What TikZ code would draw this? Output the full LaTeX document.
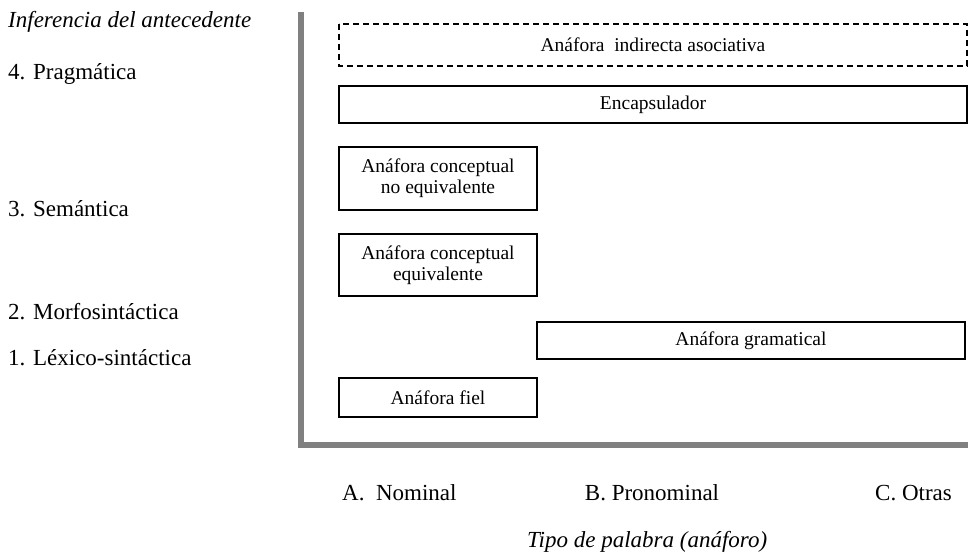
\documentclass[tikz,border=0pt]{standalone}
\usepackage{fontspec}
\setmainfont{Liberation Serif}
\begin{document}
\begin{tikzpicture}[x=1pt,y=-1pt,
  lbl/.style={anchor=base west,inner sep=0pt,font=\fontsize{23}{27}\selectfont},
  xlbl/.style={anchor=base,inner sep=0pt,font=\fontsize{23}{27}\selectfont},
  boxtxt/.style={inner sep=0pt,align=center,font=\fontsize{19.5}{21}\selectfont},
  cat/.style={draw=black,line width=1.7pt},
  catdash/.style={draw=black,line width=1.7pt,dash pattern=on 6pt off 4pt},
  axisline/.style={draw=black!50,line width=6pt}]
\path[fill=white] (0,0) rectangle (968,556);
\useasboundingbox (0,0) rectangle (968,556);
% axes
\coordinate (ytop) at (301,12);
\coordinate (corner) at (301,445);
\coordinate (xend) at (970,445);
\draw[axisline] (ytop) -- (corner) -- (xend);
% left labels
\node[lbl,font=\fontsize{23}{27}\selectfont\itshape] (inf) at (8,28) {Inferencia del antecedente};
\node[lbl] (l4) at (8,80) {4. Pragmática};
\node[lbl] (l3) at (8,216) {3. Semántica};
\node[lbl] (l2) at (8,319) {2. Morfosintáctica};
\node[lbl] (l1) at (8,365) {1. Léxico-sintáctica};
% boxes
\draw[catdash] (339,24) rectangle (967,66);
\node[boxtxt] (ind) at (653,45) {Anáfora\ \ indirecta asociativa};
\draw[cat] (339,86) rectangle (967,123);
\node[boxtxt] (enc) at (653,104.5) {Encapsulador};
\draw[cat] (339,147) rectangle (537,210);
\node[boxtxt] (cne) at (438,178.5) {Anáfora conceptual\\no equivalente};
\draw[cat] (339,234) rectangle (537,296);
\node[boxtxt] (ce) at (438,265) {Anáfora conceptual\\equivalente};
\draw[cat] (537,322) rectangle (965,359);
\node[boxtxt] (gra) at (751,340.5) {Anáfora gramatical};
\draw[cat] (339,378) rectangle (537,417);
\node[boxtxt] (fiel) at (438,397.5) {Anáfora fiel};
% bottom labels
\node[lbl] (A) at (342,500) {A.\ \ Nominal};
\node[xlbl] (B) at (652,500) {B. Pronominal};
\node[lbl] (C) at (875,500) {C. Otras};
\node[lbl,font=\fontsize{23}{27}\selectfont\itshape] (tipo) at (527,547) {Tipo de palabra (anáforo)};
\end{tikzpicture}
\end{document}
